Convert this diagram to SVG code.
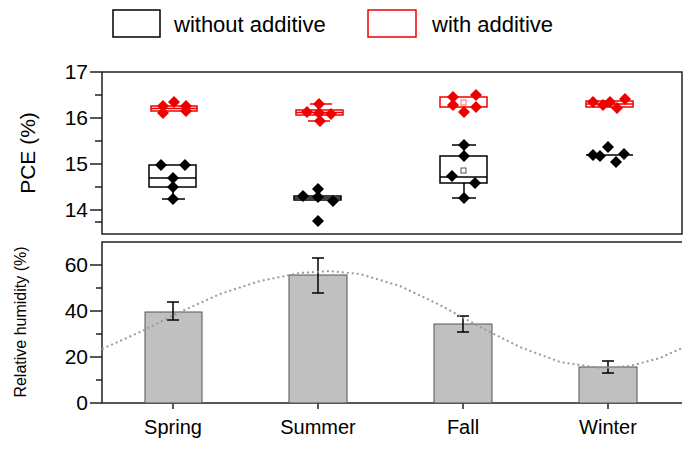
<svg xmlns="http://www.w3.org/2000/svg" width="700" height="455" viewBox="0 0 700 455">
<style>
text{font-family:"Liberation Sans",Arial,sans-serif;fill:#000}
.ax{stroke:#222;stroke-width:1.5;fill:none}
.bk{stroke:#000;stroke-width:1.5;fill:none}
.rd{stroke:#e00;stroke-width:1.5;fill:none}
.bar{fill:#c0c0c0;stroke:#555;stroke-width:1}
.tl{font-size:21px;text-anchor:end}
.xl{font-size:20px;text-anchor:middle}
</style>
<defs>
<path id="d" d="M0,-6 L6,0 L0,6 L-6,0 Z"/>
</defs>
<rect width="700" height="455" fill="#fff"/>
<g id="legend">
<rect x="113" y="10" width="47" height="27" class="bk" stroke-width="1.2"/>
<text x="174" y="32" font-size="22">without additive</text>
<rect x="368" y="10" width="48" height="27" class="rd" stroke-width="1.2"/>
<text x="432" y="32" font-size="22">with additive</text>
</g>
<g id="top-axes">
<rect x="102" y="72" width="580" height="162" class="ax"/>
<path class="ax" d="M90,72H102M95,95H102M90,118H102M95,141H102M90,164H102M95,187H102M90,210H102M95,222H102"/>
<text class="tl" x="88" y="79">17</text>
<text class="tl" x="88" y="125">16</text>
<text class="tl" x="88" y="171">15</text>
<text class="tl" x="88" y="217">14</text>
<text font-size="21" transform="translate(35,153) rotate(-90)" text-anchor="middle">PCE (%)</text>
</g>
<g id="box-spring">
<path class="rd" d="M151,106h46v5h-46z M151,108.5h46"/>
<g fill="#e00"><use href="#d" x="163" y="106"/><use href="#d" x="163" y="113"/><use href="#d" x="174" y="102"/><use href="#d" x="186" y="106"/><use href="#d" x="186" y="111"/></g>
<path class="bk" d="M149,165h47v22h-47z M149,178h47 M173,187v12 M162,199h23"/>
<g fill="#000"><use href="#d" x="161" y="165"/><use href="#d" x="185" y="165"/><use href="#d" x="173" y="178"/><use href="#d" x="173" y="187"/><use href="#d" x="173" y="199"/></g>
</g>
<g id="box-summer">
<path class="rd" d="M296,110h47v5h-47z M296,112.5h47 M310,104h22 M308,121h22"/>
<g fill="#e00"><use href="#d" x="307" y="112"/><use href="#d" x="319" y="104"/><use href="#d" x="319" y="113"/><use href="#d" x="320" y="121"/><use href="#d" x="331" y="114"/></g>
<path class="bk" d="M294,196h47v4h-47z M294,198h47"/>
<g fill="#000"><use href="#d" x="303" y="196"/><use href="#d" x="318" y="189"/><use href="#d" x="318" y="197"/><use href="#d" x="333" y="201"/><use href="#d" x="318" y="221"/></g>
</g>
<g id="box-fall">
<path class="rd" d="M440,97h47v10h-47z"/>
<rect x="461" y="100" width="5" height="5" fill="none" stroke="#e77" stroke-width="1"/>
<g fill="#e00"><use href="#d" x="453" y="97"/><use href="#d" x="476" y="95"/><use href="#d" x="453" y="105"/><use href="#d" x="476" y="107"/><use href="#d" x="464" y="112"/></g>
<path class="bk" d="M440,156h47v27h-47z M440,177h47 M464,145v11 M464,183v15 M452,145h24 M452,198h24"/>
<rect x="461" y="168" width="5" height="5" fill="none" stroke="#555" stroke-width="1"/>
<g fill="#000"><use href="#d" x="464" y="145"/><use href="#d" x="464" y="156"/><use href="#d" x="452" y="176"/><use href="#d" x="475" y="183"/><use href="#d" x="464" y="198"/></g>
</g>
<g id="box-winter">
<path class="rd" d="M586,101h47v6h-47z M586,104h47"/>
<g fill="#e00"><use href="#d" x="593" y="102"/><use href="#d" x="603" y="105"/><use href="#d" x="610" y="102"/><use href="#d" x="617" y="108"/><use href="#d" x="625" y="99"/></g>
<path class="bk" d="M586,155h47"/>
<g fill="#000"><use href="#d" x="593" y="155"/><use href="#d" x="600" y="156"/><use href="#d" x="608" y="147"/><use href="#d" x="616" y="162"/><use href="#d" x="624" y="154"/></g>
</g>
<g id="bottom-axes">
<path class="ax" d="M682,242H102V403H682"/>
<path class="ax" d="M90,265H102M96,288H102M90,311H102M96,334H102M90,357H102M96,380H102M90,403H102M173,403v6M318,403v6M463,403v6M608,403v6"/>
<text class="tl" x="88" y="272">60</text>
<text class="tl" x="88" y="318">40</text>
<text class="tl" x="88" y="364">20</text>
<text class="tl" x="88" y="410">0</text>
<text font-size="16" transform="translate(26,322) rotate(-90)" text-anchor="middle">Relative humidity (%)</text>
<text class="xl" x="173" y="434">Spring</text>
<text class="xl" x="318" y="434">Summer</text>
<text class="xl" x="463" y="434">Fall</text>
<text class="xl" x="608" y="434">Winter</text>
</g>
<g id="bars">
<rect class="bar" x="145" y="312" width="57" height="91"/>
<rect class="bar" x="289" y="275" width="58" height="128"/>
<rect class="bar" x="434" y="324" width="58" height="79"/>
<rect class="bar" x="579" y="367" width="58" height="36"/>
<path class="bk" d="M173,302v18M167,302h12M167,320h12 M318,258v35M312,258h12M312,293h12 M463,316v16M457,316h12M457,332h12 M608,361v12M602,361h12M602,373h12"/>
</g>
<g id="connectors">
<polyline fill="none" stroke="#999" stroke-width="2" stroke-dasharray="2,3" points="102,349 140,332 180,312 220,294 260,281 300,273 330,271 360,274 400,286 440,305 480,327 520,347 560,362 600,368 630,366 660,358 682,348"/>
</g>
</svg>
